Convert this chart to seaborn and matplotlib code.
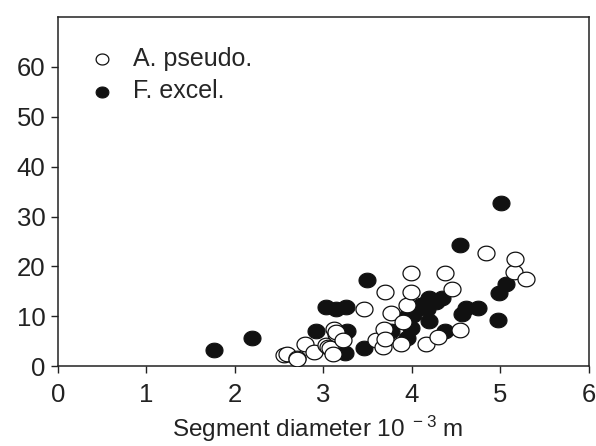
import numpy as np
import pandas as pd
import seaborn as sns
import matplotlib.pyplot as plt
from matplotlib.path import Path

# A. pseudo. (open circles)
pseudo_x = [2.55, 2.59, 2.70, 2.70, 2.79, 2.89, 3.03, 3.05, 3.08, 3.11, 3.12, 3.14,
            3.14, 3.22, 3.46, 3.59, 3.67, 3.69, 3.70, 3.70, 3.77, 3.88, 3.90, 3.94,
            3.99, 3.99, 4.16, 4.30, 4.38, 4.45, 4.54, 4.84, 5.15, 5.16, 5.29]
pseudo_y = [2.3, 2.5, 1.7, 1.5, 4.5, 2.8, 4.2, 3.8, 3.7, 2.5, 7.5, 6.5,
            6.8, 5.2, 11.5, 5.2, 3.8, 7.5, 5.5, 14.9, 10.6, 4.5, 8.8, 12.2,
            14.9, 18.6, 4.5, 5.8, 18.6, 15.5, 7.3, 22.6, 18.9, 21.4, 17.5]

# F. excel. (filled circles)
excel_x = [1.76, 2.19, 2.92, 3.03, 3.14, 3.24, 3.26, 3.27, 3.46, 3.49, 3.76, 3.95,
           3.95, 3.99, 4.01, 4.10, 4.17, 4.17, 4.19, 4.19, 4.27, 4.34, 4.38, 4.54,
           4.57, 4.61, 4.75, 4.97, 4.99, 5.01, 5.06]
excel_y = [3.2, 5.7, 7.0, 11.8, 11.4, 2.7, 11.8, 7.0, 3.7, 17.2, 7.0, 5.6,
           10.0, 7.7, 10.2, 12.2, 12.9, 11.5, 13.7, 9.0, 12.9, 13.7, 7.1, 24.2,
           10.5, 11.7, 11.7, 9.3, 14.7, 32.8, 16.4]

df_p = pd.DataFrame({"d": pseudo_x, "v": pseudo_y})
df_e = pd.DataFrame({"d": excel_x, "v": excel_y})

# slightly flattened circle, like the scanned markers
t = np.linspace(0, 2 * np.pi, 60)
oval = Path(np.column_stack([np.cos(t), 0.86 * np.sin(t)]), closed=True)

sns.set_theme(style="ticks")
plt.rcParams['font.family'] = ['Liberation Sans', 'DejaVu Sans']
plt.rcParams['mathtext.default'] = 'regular'

fig = plt.figure(figsize=(5.96, 4.46), dpi=100)
ax = fig.add_axes([0.097, 0.179, 0.891, 0.783])

sns.scatterplot(data=df_e, x="d", y="v", ax=ax, color="#111111", edgecolor="#111111",
                s=150, linewidth=0.8, marker=oval, label="F. excel.", zorder=2)
sns.scatterplot(data=df_p, x="d", y="v", ax=ax, color="white", edgecolor="#111111",
                s=150, linewidth=0.9, marker=oval, label="A. pseudo.", zorder=3)

ax.set_xlim(0, 6)
ax.set_ylim(0, 70)
ax.set_xticks(range(0, 7))
ax.set_yticks(range(0, 70, 10))
ax.tick_params(direction="out", length=5, width=1, labelsize=18.5, colors="#222222")
ax.tick_params(axis="x", pad=7)
ax.tick_params(axis="y", pad=4)
for sp in ax.spines.values():
    sp.set_color("#222222")
    sp.set_linewidth(1.1)

ax.set_xlabel("Segment diameter 10$^{\\ -3}$ m", fontsize=17.5, color="#222222")
ax.xaxis.set_label_coords(0.49, -0.18)
ax.xaxis.label.set_va("center")
ax.set_ylabel("")

handles, labels = ax.get_legend_handles_labels()
leg = ax.legend(handles[::-1], labels[::-1], loc="upper left", frameon=False,
                fontsize=18, markerscale=0.75, handletextpad=0.5, handlelength=1.5,
                bbox_to_anchor=(0.015, 0.965), labelspacing=0.35, borderaxespad=0.3)

fig.savefig("out.png", dpi=100)
